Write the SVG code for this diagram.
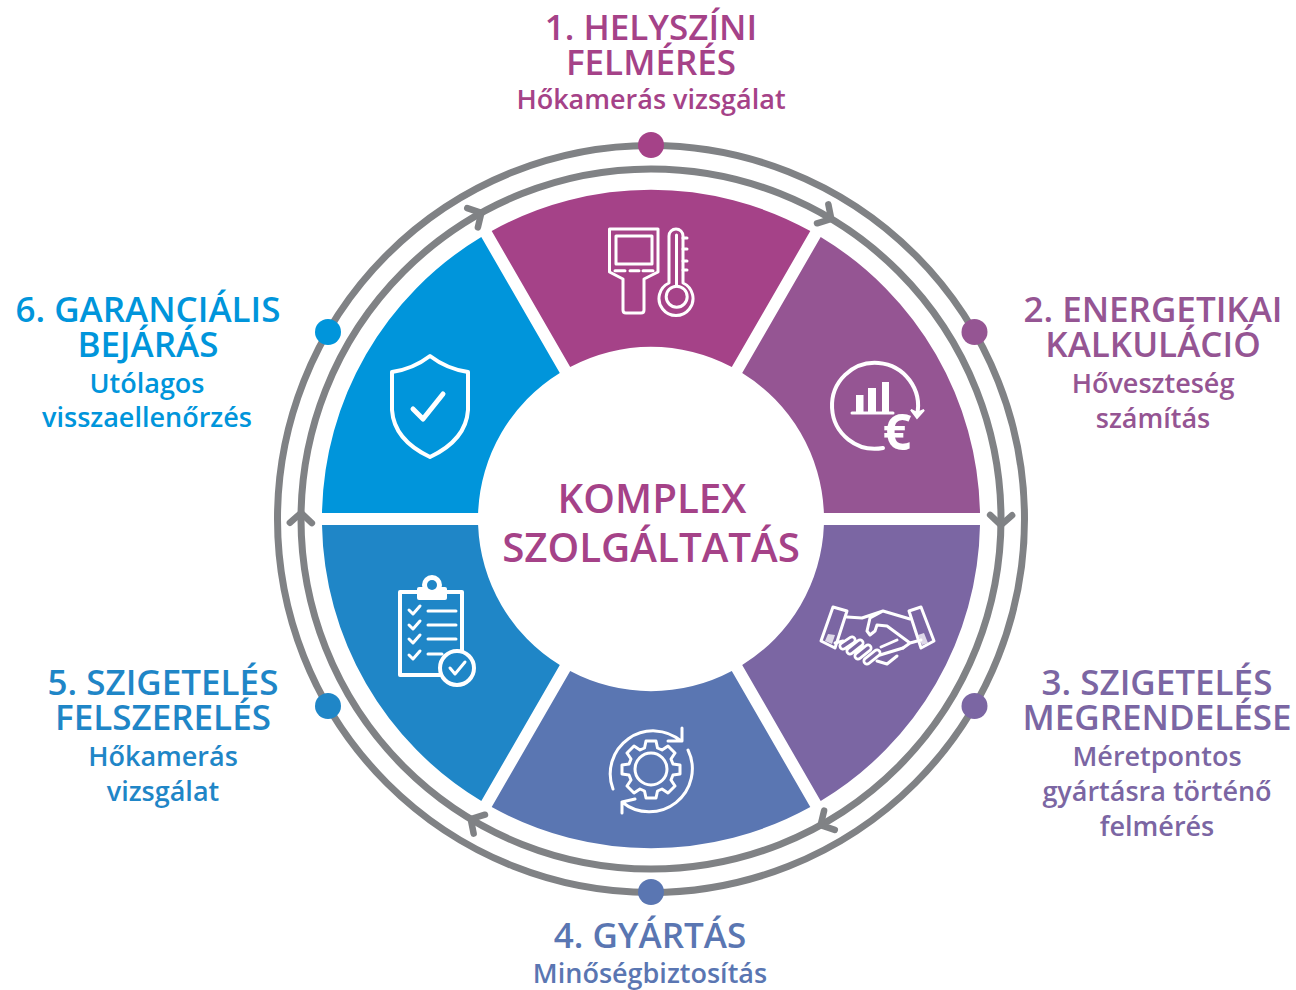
<svg xmlns="http://www.w3.org/2000/svg" width="1296" height="990" viewBox="0 0 1296 990">
<style>
text{font-family:"Open Sans","Noto Sans","Liberation Sans",sans-serif;font-weight:600;text-anchor:middle}
.t{font-size:35px}.s{font-size:27px}.c{font-size:40.300px;fill:#a54288}
.ring{fill:none;stroke:#808285;stroke-width:7}
.chev{fill:none;stroke:#808285;stroke-width:6.500;stroke-linecap:round;stroke-linejoin:round}
.i{fill:none;stroke:#fff;stroke-width:3;stroke-linecap:round;stroke-linejoin:round}
.i2{fill:none;stroke:#fff;stroke-width:4;stroke-linecap:round;stroke-linejoin:round}
.w{fill:#fff}
.c1{fill:#a54288}.c2{fill:#955593}.c3{fill:#7b66a3}.c4{fill:#5a76b2}.c5{fill:#1f86c7}.c6{fill:#0095db}
</style>
<defs><path id="chev" class="chev" d="M-10,-11 L0,0 L-10,11"/></defs>
<rect width="1296" height="990" fill="#fff"/>
<g id="connectors">
<circle class="ring" cx="651" cy="519" r="373.5"/>
<circle class="ring" cx="651" cy="519" r="350"/>
<use href="#chev" transform="rotate(31 651 519) translate(651 169)"/>
<use href="#chev" transform="rotate(91 651 519) translate(651 169)"/>
<use href="#chev" transform="rotate(151 651 519) translate(651 169)"/>
<use href="#chev" transform="rotate(211 651 519) translate(651 169)"/>
<use href="#chev" transform="rotate(271 651 519) translate(651 169)"/>
<use href="#chev" transform="rotate(331 651 519) translate(651 169)"/>
</g>
<g id="node1">
<path class="c1" d="M491.7,231 A329,329 0 0 1 810.3,231 L731.8,367 A172,172 0 0 0 570.2,367 Z"/>
<circle class="c1" cx="651" cy="145" r="13"/>
<path class="i" d="M609.5,229 H658 V272 L644,279 V310 Q644,313 641,313 H626 Q623,313 623,310 V279 L609.5,272 Z"/>
<rect class="i" x="616" y="236" width="36" height="28"/>
<path class="i" d="M615,270.7 H625 M630,270.7 H639 M643,270.7 H653"/>
<path class="i" d="M669,283 V236 A7,7 0 0 1 683,236 V283 A17,17 0 1 1 669,283 Z"/>
<path class="i" d="M683,238 H687 M683,249 H687 M683,261 H687 M683,270 H687"/>
<circle class="i" cx="676.7" cy="296.7" r="10.500"/>
<path class="i" d="M676.500,286 V235" stroke-width="2"/>
<text class="t" fill="#a54288"><tspan x="651" y="40">1. HELYSZÍNI</tspan><tspan x="651" y="75">FELMÉRÉS</tspan></text>
<text class="s" fill="#a54288" x="651" y="109">Hőkamerás vizsgálat</text>
</g>
<g id="node2">
<path class="c2" d="M820.7,237 A329,329 0 0 1 980,513 H823.9 A172,172 0 0 0 742.2,373 Z"/>
<circle class="c2" cx="974.5" cy="332" r="13"/>
<path class="i2" d="M883,448 A43,43 0 1 1 917,415"/>
<path class="w" d="M911,410 L917,418 L924,410 L917,413 Z" stroke="#fff" stroke-width="2"/>
<rect class="w" x="856" y="395" width="7.5" height="18"/>
<rect class="w" x="868" y="388" width="8" height="25"/>
<rect class="w" x="882" y="382" width="7" height="31"/>
<path class="i" d="M852,413 H893"/>
<text x="897" y="450" fill="#fff" style="font-size:50px;font-weight:700">€</text>
<text class="t" fill="#955593"><tspan x="1153" y="322">2. ENERGETIKAI</tspan><tspan x="1153" y="357">KALKULÁCIÓ</tspan></text>
<text class="s" fill="#955593"><tspan x="1153" y="393">Hőveszteség</tspan><tspan x="1153" y="428">számítás</tspan></text>
</g>
<g id="node3">
<path class="c3" d="M980,525 A329,329 0 0 1 820.7,801 L742.2,665 A172,172 0 0 0 823.9,525 Z"/>
<circle class="c3" cx="974.5" cy="706" r="13"/>
<path class="i" d="M833,607 L847,611 L835,648 L821,641 Z M909,611 L921,607 L934,641 L921,648 Z"/>
<path class="w" d="M828,634 L835,635 L832,644 L825,641 Z M918,635 L924,633 L928,643 L922,645 Z" fill-opacity="0.75"/>
<path class="i" d="M847,617 L862,618 L883,611 L910,619 M883,611 L870,618 L867,631 L870,635 L875,631 L877,625 L887,626 L910,643 L903,648 M921,640 L910,643 M835,643 L843,641"/>
<path d="M843,646 L852,640 M850,651 L860,643 M858,656 L868,648 M867,661 L877,653" fill="none" stroke="#fff" stroke-width="9" stroke-linecap="round"/>
<path d="M843,646 L852,640 M850,651 L860,643 M858,656 L868,648 M867,661 L877,653" fill="none" stroke="#7b66a3" stroke-width="3.500" stroke-linecap="round"/>
<path class="i" d="M877,661 L887,664 L897,656 M880,655 L903,648 M881,647 L897,640"/>
<text class="t" fill="#7b66a3"><tspan x="1157" y="695">3. SZIGETELÉS</tspan><tspan x="1157" y="730">MEGRENDELÉSE</tspan></text>
<text class="s" fill="#7b66a3"><tspan x="1157" y="766">Méretpontos</tspan><tspan x="1157" y="801">gyártásra történő</tspan><tspan x="1157" y="836">felmérés</tspan></text>
</g>
<g id="node4">
<path class="c4" d="M810.3,807 A329,329 0 0 1 491.7,807 L570.2,671 A172,172 0 0 0 731.8,671 Z"/>
<circle class="c4" cx="651" cy="892" r="13"/>
<circle class="i" cx="651" cy="769" r="16"/>
<path class="i" d="M646,741 H656 L657.5,748 L662,750 L668,746 L675,753 L671,759 L673,764 L680,765 V774 L673,775 L671,780 L675,786 L668,793 L662,789 L657.5,791 L656,798 H646 L644.500,791 L640,789 L634,793 L627,786 L631,780 L629,775 L622,774 V765 L629,764 L631,759 L627,753 L634,746 L640,750 L644.500,748 Z"/>
<path class="i" d="M613,789 A43,43 0 0 1 681,741 M682,728 V741 H668"/>
<path class="i" d="M688,750 A43,43 0 0 1 622,802 M622,813 V802 L635,799"/>
<text class="t" fill="#5a76b2" x="650" y="948">4. GYÁRTÁS</text>
<text class="s" fill="#5a76b2" x="650" y="983">Minőségbiztosítás</text>
</g>
<g id="node5">
<path class="c5" d="M481.3,801 A329,329 0 0 1 322,525 H478.100 A172,172 0 0 0 559.800,665 Z"/>
<circle class="c5" cx="328" cy="706" r="13"/>
<path class="i2" d="M417,592 H400 V675 H440 M447,592 H462 V652"/>
<rect class="w" x="417" y="587" width="30" height="13" rx="2"/>
<circle class="w" cx="432" cy="585" r="10"/>
<circle class="c5" cx="432" cy="585" r="5"/>
<path class="i" d="M409,610 L413,614 L420,606 M409,625 L413,629 L420,621 M409,639 L413,643 L420,635 M409,655 L413,659 L420,651"/>
<path class="i" d="M428,611 H456 M428,625 H456 M428,639 H456 M428,654 H442"/>
<circle cx="457" cy="668" r="17" fill="#1f86c7" stroke="#fff" stroke-width="4"/>
<path class="i" d="M450,668 L455,674 L465,662" stroke-width="2"/>
<text class="t" fill="#1f86c7"><tspan x="163" y="695">5. SZIGETELÉS</tspan><tspan x="163" y="730">FELSZERELÉS</tspan></text>
<text class="s" fill="#1f86c7"><tspan x="163" y="766">Hőkamerás</tspan><tspan x="163" y="801">vizsgálat</tspan></text>
</g>
<g id="node6">
<path class="c6" d="M322,513 A329,329 0 0 1 481.3,237 L559.800,373 A172,172 0 0 0 478.100,513 Z"/>
<circle class="c6" cx="328" cy="332" r="13"/>
<path class="i2" d="M430,356 Q447,369 468,372 V410 Q466,440 430,457 Q394,440 392,410 V372 Q413,369 430,356 Z"/>
<path class="i2" d="M413,409 L423,419 L443,394" style="stroke-width:5"/>
<text class="t" fill="#0095db"><tspan x="148" y="322">6. GARANCIÁLIS</tspan><tspan x="148" y="357">BEJÁRÁS</tspan></text>
<text class="s" fill="#0095db"><tspan x="147" y="393">Utólagos</tspan><tspan x="147" y="427">visszaellenőrzés</tspan></text>
</g>
<g id="center">
<text class="c" x="652" y="513">KOMPLEX</text>
<text class="c" x="651" y="562">SZOLGÁLTATÁS</text>
</g>
</svg>
